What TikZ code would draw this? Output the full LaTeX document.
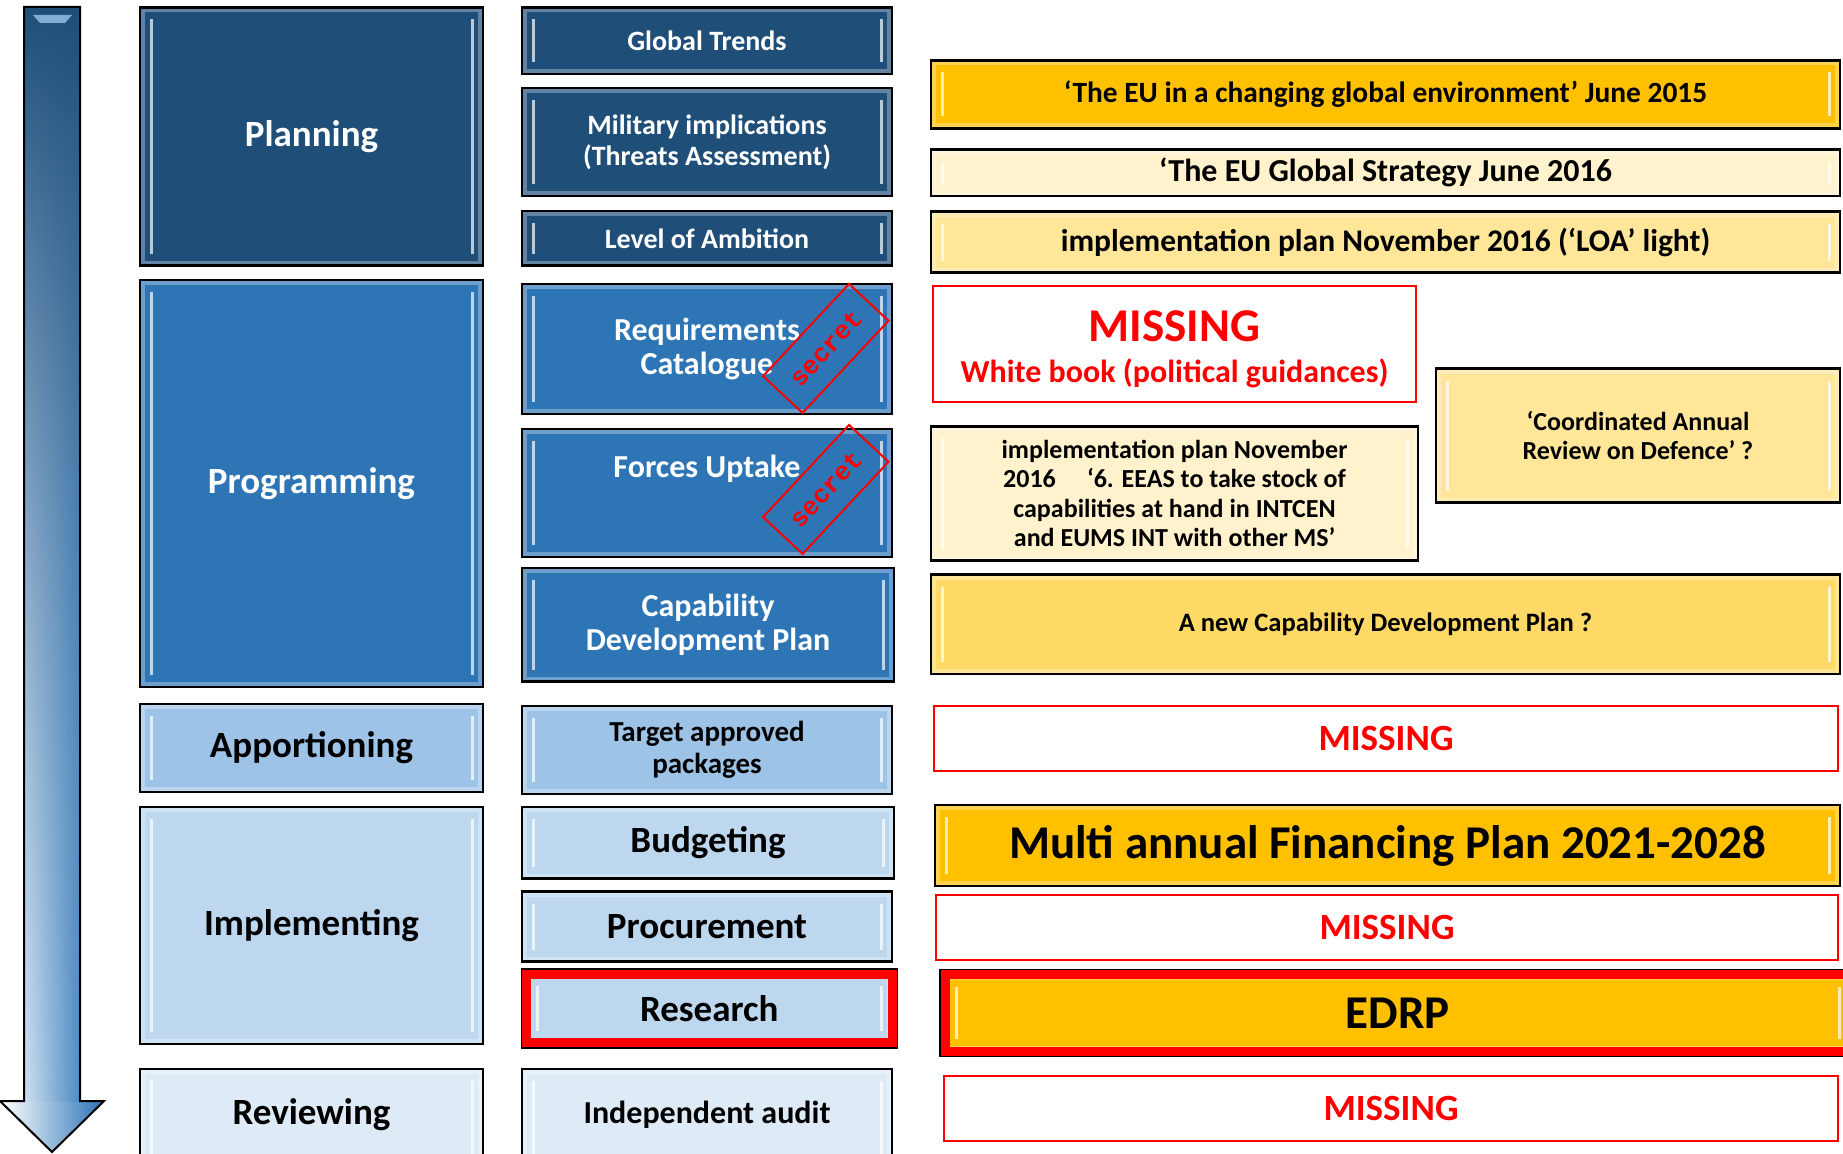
\documentclass[tikz,border=0pt]{standalone}
\usepackage{fontspec}
\setmainfont{Carlito}
\newfontfamily\stampfont{Liberation Mono}
\usepackage{xcolor}
\usepackage{tikz}
\usetikzlibrary{positioning, calc, fadings}

\definecolor{navy}{HTML}{1F4E79}
\definecolor{midblue}{HTML}{2E75B6}
\definecolor{skyblue}{HTML}{9DC3E6}
\definecolor{paleblue}{HTML}{BDD7EE}
\definecolor{iceblue}{HTML}{DEEBF7}
\definecolor{gold}{HTML}{FFC000}
\definecolor{midgold}{HTML}{FFD966}
\definecolor{lightgold}{HTML}{FFE699}
\definecolor{cream}{HTML}{FFF2CC}
\definecolor{alarm}{HTML}{FF0000}

\tikzset{
    bevel/.style={path picture={
        \draw[white, opacity=0.3, line width=10pt] (path picture bounding box.north west) rectangle (path picture bounding box.south east);
        \draw[white, opacity=0.7, line width=3pt] ([shift={(11pt,-12pt)}]path picture bounding box.north west) -- ([shift={(11pt,12pt)}]path picture bounding box.south west);
        \draw[white, opacity=0.7, line width=3pt] ([shift={(-11pt,-12pt)}]path picture bounding box.north east) -- ([shift={(-11pt,12pt)}]path picture bounding box.south east);
    }},
    block/.style={draw=black, line width=2.5pt, inner sep=0pt, align=center, bevel},
    missbox/.style={draw=alarm, line width=2pt, fill=white, inner sep=0pt, align=center, text=alarm},
    flagged/.style={preaction={draw=black, line width=12pt}, draw=alarm, line width=9pt},
    stamp/.style={draw=alarm, line width=2pt, text=alarm, inner sep=0pt, minimum width=126pt, minimum height=54pt, rotate=47, font=\stampfont\bfseries\fontsize{26}{26}\selectfont},
    hugetext/.style={font=\bfseries\fontsize{47}{52}\selectfont},
    bigtext/.style={font=\bfseries\fontsize{37}{42}\selectfont},
    midtext/.style={font=\bfseries\fontsize{32}{34}\selectfont},
    smalltext/.style={font=\bfseries\fontsize{28}{31}\selectfont},
    tinytext/.style={font=\bfseries\fontsize{26}{29.5}\selectfont}
}

\begin{document}
\begin{tikzpicture}[x=1pt, y=-1pt]

    \useasboundingbox (0,0) rectangle (1843,1153);

    % Time arrow on the left
    \shade[top color=navy, middle color=midblue!80!navy, bottom color=skyblue]
        (24,7) -- (80,7) -- (80,1101) -- (104,1101) -- (52,1152) -- (0,1101) -- (24,1101) -- cycle;
    \shade[left color=paleblue!40!white, right color=midblue, fill opacity=0.7, path fading=north]
        (24,7) -- (80,7) -- (80,1101) -- (24,1101) -- cycle;
    \shade[left color=white, right color=midblue]
        (2,1102) -- (102,1102) -- (52,1150) -- cycle;
    \draw[black, line width=2pt]
        (24,1101) -- (24,7) -- (80,7) -- (80,1101) -- (104,1101) -- (52,1152) -- (0,1101) -- cycle;
    \fill[midblue!60!white] (33,15) -- (72,15) -- (65,23) -- (40,23) -- cycle;

    % Phases
    \node[block, bigtext, fill=navy, text=white, minimum width=343pt, minimum height=258pt] (planning) at (311.5,136.5) {Planning};
    \node[block, bigtext, fill=midblue, text=white, minimum width=343pt, minimum height=407pt] (programming) at (311.5,483.5) {Programming};
    \node[block, bigtext, fill=skyblue, minimum width=343pt, minimum height=88pt] (apportioning) at (311.5,748) {Apportioning};
    \node[block, bigtext, fill=paleblue, minimum width=343pt, minimum height=237pt] (implementing) at (311.5,925.5) {Implementing};
    \node[block, bigtext, fill=iceblue, minimum width=343pt, minimum height=111pt, text depth=28pt, text height=28pt] (reviewing) at (311.5,1124.5) {Reviewing};

    % Steps
    \node[block, smalltext, fill=navy, text=white, minimum width=370pt, minimum height=66.6pt] (trends) at (707,40.7) {Global Trends};
    \node[block, smalltext, fill=navy, text=white, minimum width=370pt, minimum height=108pt] (threats) at (707,142) {Military implications\\(Threats Assessment)};
    \node[block, smalltext, fill=navy, text=white, minimum width=370pt, minimum height=54.5pt] (ambition) at (707,238.3) {Level of Ambition};
    \node[block, midtext, fill=midblue, text=white, minimum width=370pt, minimum height=130pt] (reqcat) at (707,349) {Requirements\\Catalogue};
    \node[block, midtext, fill=midblue, text=white, minimum width=370pt, minimum height=128pt, text height=24pt, text depth=56pt] (uptake) at (707,493) {Forces Uptake};
    \node[block, midtext, fill=midblue, text=white, minimum width=372pt, minimum height=113.5pt] (cdp) at (708,624.8) {Capability\\Development Plan};
    \node[block, fill=skyblue, minimum width=370pt, minimum height=88pt, font=\bfseries\fontsize{29}{32}\selectfont] (packages) at (707,750) {Target approved\\packages};
    \node[block, bigtext, fill=paleblue, minimum width=372pt, minimum height=71.6pt] (budgeting) at (708,842.8) {Budgeting};
    \node[block, bigtext, fill=paleblue, minimum width=370pt, minimum height=70pt] (procurement) at (707,926.5) {Procurement};
    \node[block, flagged, bigtext, fill=paleblue, minimum width=365.5pt, minimum height=68.3pt] (research) at (709.3,1008.6) {Research};
    \node[block, midtext, fill=iceblue, minimum width=370pt, minimum height=111pt, text depth=28pt, text height=26pt] (audit) at (707,1124.5) {Independent audit};

    % Secret stamps
    \node[stamp] (secretreq) at (825.8,348.4) {secret};
    \node[stamp] (secretup) at (825.8,489.4) {secret};

    % Documents on the right
    \node[block, fill=gold, minimum width=909pt, minimum height=68pt, font=\bfseries\fontsize{29.4}{32}\selectfont] (envdoc) at (1385.5,94.4) {‘The EU in a changing global environment’ June 2015};
    \node[block, midtext, fill=cream, minimum width=909pt, minimum height=46.5pt] (strategy) at (1385.5,172.8) {‘The EU Global Strategy June 2016};
    \node[block, fill=lightgold, minimum width=909pt, minimum height=61pt, font=\bfseries\fontsize{31.5}{34}\selectfont] (loaplan) at (1385.5,242.2) {implementation plan November 2016 (‘LOA’ light)};
    \node[missbox, minimum width=483pt, minimum height=116.4pt] (whitebook) at (1174.5,343.8) {{\bfseries\fontsize{47}{47}\selectfont\rule{0pt}{42pt}MISSING}\\[16pt]{\bfseries\fontsize{32}{34}\selectfont White book (political guidances)}};
    \node[block, tinytext, fill=lightgold, minimum width=404pt, minimum height=134pt] (card) at (1638,435.5) {‘Coordinated Annual\\Review on Defence’ ?};
    \node[block, tinytext, fill=cream, minimum width=487pt, minimum height=134pt] (eeas) at (1174.5,493.6) {implementation plan November\\2016\hspace{1.2em}‘6. EEAS to take stock of\\capabilities at hand in INTCEN\\and EUMS INT with other MS’};
    \node[block, fill=midgold, minimum width=909pt, minimum height=99.5pt, font=\bfseries\fontsize{26.6}{29}\selectfont] (newcdp) at (1385.5,624.3) {A new Capability Development Plan ?};
    \node[missbox, bigtext, minimum width=904pt, minimum height=65pt] (missapp) at (1386,738.5) {MISSING};
    \node[block, hugetext, fill=gold, minimum width=905pt, minimum height=81pt] (mfp) at (1387.5,845.5) {Multi annual Financing Plan 2021-2028};
    \node[missbox, bigtext, minimum width=902pt, minimum height=65pt] (missproc) at (1387,927.5) {MISSING};
    \node[block, flagged, hugetext, fill=gold, minimum width=905pt, minimum height=76.5pt] (edrp) at (1397.5,1012.8) {EDRP};
    \node[missbox, bigtext, minimum width=894pt, minimum height=65pt] (missrev) at (1391,1108.5) {MISSING};

\end{tikzpicture}
\end{document}
